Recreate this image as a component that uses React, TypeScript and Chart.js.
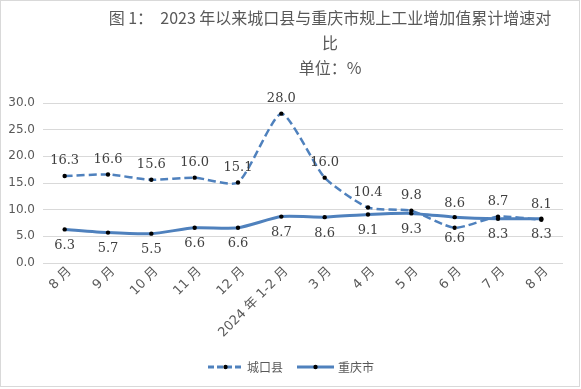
import React, { useEffect, useRef } from 'react';
import { Chart, registerables } from 'chart.js';

Chart.register(...registerables);

const categories = ['8 月', '9 月', '10 月', '11 月', '12 月', '2024 年 1-2 月', '3 月', '4 月', '5 月', '6 月', '7 月', '8 月'];
const chengkou = [16.3, 16.6, 15.6, 16.0, 15.1, 28.0, 16.0, 10.4, 9.8, 6.6, 8.7, 8.1];
const chongqing = [6.3, 5.7, 5.5, 6.6, 6.6, 8.7, 8.6, 9.1, 9.3, 8.6, 8.3, 8.3];
const seriesNames = ['城口县', '重庆市'];
const titleLines = ['图 1：  2023 年以来城口县与重庆市规上工业增加值累计增速对', '比', '单位：%'];
const yMin = 0;
const yMax = 30;
const yStep = 5;

const LINE_COLOR = '#4F81BD';
const TEXT_COLOR = '#595959';
const CJK = '"Noto Sans CJK SC", "DejaVu Sans", sans-serif';

const decorPlugin = {
  id: 'decor',
  afterDraw(chart: any) {
    const ctx = chart.ctx as CanvasRenderingContext2D;
    ctx.save();
    ctx.strokeStyle = '#D9D9D9';
    ctx.lineWidth = 1;
    ctx.strokeRect(0.5, 0.5, 579, 386);
    ctx.fillStyle = TEXT_COLOR;
    ctx.font = '16px ' + CJK;
    ctx.textAlign = 'center';
    ctx.textBaseline = 'middle';
    const cx = 330;
    titleLines.forEach((t, i) => ctx.fillText(t, cx, 18 + i * 25));
    const ly = 367;
    ctx.font = '12px ' + CJK;
    ctx.textAlign = 'left';
    const items = [
      { name: seriesNames[0], dash: [6, 3], x0: 208, x1: 243 },
      { name: seriesNames[1], dash: [], x0: 297, x1: 334 },
    ];
    items.forEach((it) => {
      ctx.strokeStyle = LINE_COLOR;
      ctx.lineWidth = 3;
      ctx.setLineDash(it.dash);
      ctx.beginPath();
      ctx.moveTo(it.x0, ly);
      ctx.lineTo(it.x1, ly);
      ctx.stroke();
      ctx.setLineDash([]);
      ctx.fillStyle = '#000';
      ctx.beginPath();
      ctx.arc((it.x0 + it.x1) / 2, ly, 2.2, 0, Math.PI * 2);
      ctx.fill();
      ctx.fillStyle = TEXT_COLOR;
      ctx.fillText(it.name, it.x1 + 4, ly);
    });
    ctx.restore();
  },
  afterDatasetsDraw(chart: any) {
    const ctx = chart.ctx as CanvasRenderingContext2D;
    const m0 = chart.getDatasetMeta(0);
    const m1 = chart.getDatasetMeta(1);
    const d0 = chart.data.datasets[0].data as number[];
    const d1 = chart.data.datasets[1].data as number[];
    ctx.save();
    ctx.font = '13px "DejaVu Serif", serif';
    ctx.fillStyle = '#404040';
    ctx.textAlign = 'center';
    ctx.textBaseline = 'middle';
    d0.forEach((v0, i) => {
      const v1 = d1[i];
      const swap = v1 - v0 > 1;
      const p0 = m0.data[i];
      const p1 = m1.data[i];
      ctx.fillText(v0.toFixed(1), p0.x, p0.y + (swap ? 11 : -15));
      ctx.fillText(v1.toFixed(1), p1.x, p1.y + (swap ? -14 : 16));
    });
    ctx.restore();
  },
};

export default function App() {
  const ref = useRef<HTMLCanvasElement>(null);
  useEffect(() => {
    if (!ref.current) return;
    const chart = new Chart(ref.current, {
      type: 'line',
      data: {
        labels: categories,
        datasets: [
          {
            label: seriesNames[0],
            data: chengkou,
            borderColor: LINE_COLOR,
            borderWidth: 2.5,
            borderDash: [8, 4],
            tension: 0.2,
            pointRadius: 2.2,
            pointBackgroundColor: '#000',
            pointBorderColor: '#000',
            pointBorderWidth: 0,
            fill: false,
          },
          {
            label: seriesNames[1],
            data: chongqing,
            borderColor: LINE_COLOR,
            borderWidth: 3,
            tension: 0.2,
            pointRadius: 2.2,
            pointBackgroundColor: '#000',
            pointBorderColor: '#000',
            pointBorderWidth: 0,
            fill: false,
          },
        ],
      },
      options: {
        responsive: false,
        animation: false,
        devicePixelRatio: 1,
        layout: { padding: { top: 103, right: 18, bottom: 0, left: 0 } },
        plugins: {
          legend: { display: false },
          title: { display: false },
          tooltip: { enabled: false },
        },
        scales: {
          x: {
            offset: true,
            grid: { display: false, drawTicks: false },
            border: { display: false },
            afterFit: (s: any) => { s.height = 126; },
            ticks: {
              autoSkip: false,
              minRotation: 45,
              maxRotation: 45,
              padding: 1,
              labelOffset: 5,
              color: TEXT_COLOR,
              font: { family: '"DejaVu Sans", "Noto Sans CJK SC", sans-serif', size: 13 },
            },
          },
          y: {
            min: yMin,
            max: yMax,
            grid: { color: '#D9D9D9', drawTicks: false, lineWidth: 1 },
            border: { display: false },
            afterFit: (s: any) => { s.width = 43; },
            ticks: {
              stepSize: yStep,
              padding: 8,
              color: TEXT_COLOR,
              font: { family: '"DejaVu Sans", sans-serif', size: 12 },
              callback: (v: any) => Number(v).toFixed(1),
            },
          },
        },
      },
      plugins: [decorPlugin],
    });
    return () => chart.destroy();
  }, []);
  return (
    <div style={{ position: 'fixed', left: 0, top: 0, width: 581, height: 389, background: '#fff' }}>
      <canvas ref={ref} width={581} height={389} style={{ display: 'block' }} />
    </div>
  );
}
